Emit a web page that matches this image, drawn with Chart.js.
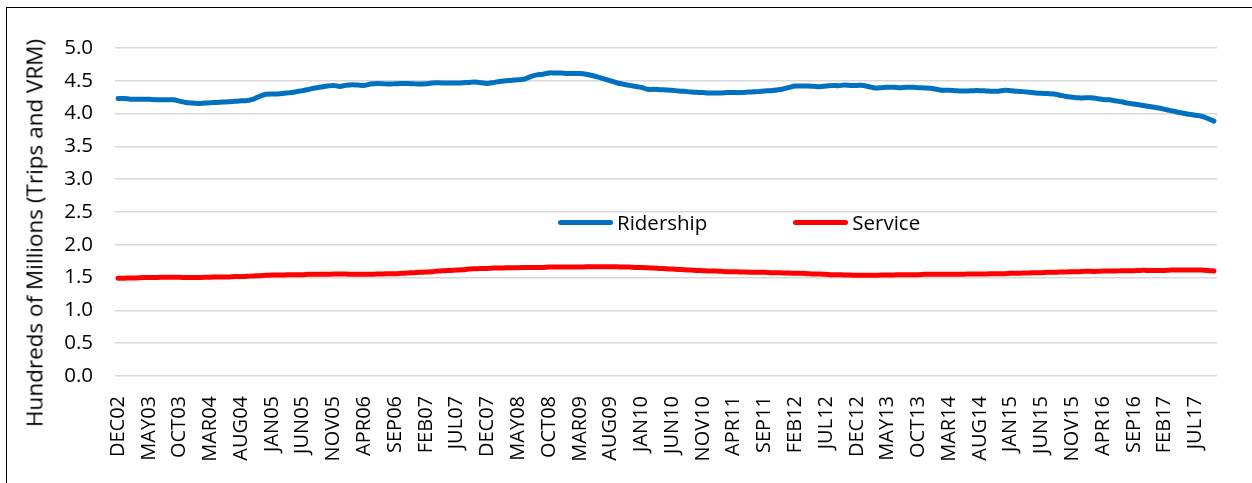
<!DOCTYPE html>
<html>
<head>
<meta charset="utf-8">
<script src="https://cdn.jsdelivr.net/npm/chart.js@4.4.1/dist/chart.umd.min.js"></script>
<style>
  html, body { margin: 0; padding: 0; overflow: hidden; background: #fff; }
  #wrap { position: relative; width: 1252px; height: 483px; }
  #frame { position: absolute; left: 6px; top: 7px; width: 1300px; height: 600px;
           border: 1.5px solid #000; pointer-events: none; }
  #ytitle { position: absolute; left: 34px; top: 233px; white-space: nowrap;
            transform: translate(-50%, -50%) rotate(-90deg);
            font: 22.5px "Open Sans"; color: #000; }
  #legend { position: absolute; left: 558px; top: 208px; display: flex;
            font: 20.5px "Open Sans"; color: #000; }
  .item { display: flex; align-items: center; margin-right: 86px; }
  .swatch { width: 55px; height: 5px; border-radius: 3px; margin-right: 4px; }
</style>
</head>
<body>
<div id="wrap">
  <canvas id="lineChart" width="1252" height="483"></canvas>
  <div id="ytitle">Hundreds of Millions (Trips and VRM)</div>
  <div id="legend"></div>
  <div id="frame"></div>
</div>
<script>
// monthly values, DEC02 .. OCT17
const ridership = [
  4.23,
  4.23, 4.22, 4.22, 4.22, 4.22, 4.21, 4.21, 4.21, 4.21, 4.19, 4.17, 4.16,
  4.155, 4.16, 4.165, 4.17, 4.175, 4.18, 4.19, 4.195, 4.20, 4.22, 4.265, 4.295,
  4.30, 4.30, 4.31, 4.32, 4.335, 4.35, 4.37, 4.39, 4.405, 4.42, 4.43, 4.415,
  4.43, 4.44, 4.435, 4.43, 4.45, 4.46, 4.455, 4.45, 4.455, 4.46, 4.46, 4.455,
  4.45, 4.455, 4.465, 4.47, 4.465, 4.465, 4.465, 4.47, 4.475, 4.48, 4.47, 4.46,
  4.475, 4.49, 4.50, 4.51, 4.515, 4.525, 4.565, 4.59, 4.60, 4.62, 4.62, 4.62,
  4.61, 4.61, 4.61, 4.60, 4.58, 4.555, 4.525, 4.50, 4.47, 4.45, 4.43, 4.415,
  4.40, 4.37, 4.37, 4.365, 4.36, 4.355, 4.345, 4.34, 4.33, 4.325, 4.32, 4.315,
  4.315, 4.315, 4.32, 4.32, 4.32, 4.325, 4.33, 4.335, 4.345, 4.35, 4.36, 4.375,
  4.40, 4.42, 4.42, 4.42, 4.415, 4.41, 4.42, 4.43, 4.425, 4.435, 4.43, 4.43,
  4.43, 4.41, 4.39, 4.395, 4.40, 4.40, 4.395, 4.40, 4.40, 4.395, 4.39, 4.385,
  4.37, 4.355, 4.355, 4.35, 4.345, 4.345, 4.35, 4.35, 4.345, 4.34, 4.34, 4.355,
  4.35, 4.34, 4.335, 4.325, 4.315, 4.31, 4.305, 4.30, 4.28, 4.26, 4.25, 4.24,
  4.24, 4.24, 4.23, 4.215, 4.21, 4.195, 4.18, 4.16, 4.145, 4.13, 4.115, 4.10,
  4.085, 4.065, 4.045, 4.025, 4.005, 3.99, 3.975, 3.96, 3.925, 3.885
];

const service = [
  1.49,
  1.49, 1.495, 1.495, 1.50, 1.50, 1.50, 1.505, 1.505, 1.505, 1.505, 1.50, 1.50,
  1.50, 1.505, 1.505, 1.51, 1.51, 1.51, 1.515, 1.515, 1.52, 1.525, 1.53, 1.535,
  1.54, 1.54, 1.54, 1.545, 1.545, 1.545, 1.55, 1.55, 1.55, 1.55, 1.555, 1.555,
  1.555, 1.55, 1.55, 1.55, 1.55, 1.555, 1.555, 1.56, 1.56, 1.565, 1.57, 1.575,
  1.58, 1.585, 1.59, 1.60, 1.605, 1.61, 1.615, 1.62, 1.63, 1.635, 1.64, 1.64,
  1.645, 1.645, 1.65, 1.65, 1.65, 1.655, 1.655, 1.655, 1.655, 1.66, 1.66, 1.66,
  1.66, 1.66, 1.66, 1.665, 1.665, 1.665, 1.665, 1.665, 1.665, 1.66, 1.66, 1.655,
  1.655, 1.65, 1.645, 1.64, 1.635, 1.63, 1.625, 1.62, 1.615, 1.61, 1.605, 1.60,
  1.60, 1.595, 1.59, 1.59, 1.585, 1.585, 1.58, 1.58, 1.58, 1.575, 1.575, 1.57,
  1.57, 1.565, 1.565, 1.56, 1.555, 1.555, 1.55, 1.545, 1.545, 1.54, 1.54, 1.535,
  1.535, 1.535, 1.535, 1.54, 1.54, 1.54, 1.545, 1.545, 1.545, 1.545, 1.55, 1.55,
  1.55, 1.55, 1.55, 1.55, 1.55, 1.555, 1.555, 1.555, 1.555, 1.56, 1.56, 1.56,
  1.565, 1.565, 1.57, 1.57, 1.575, 1.575, 1.58, 1.58, 1.585, 1.585, 1.59, 1.59,
  1.595, 1.595, 1.595, 1.60, 1.60, 1.60, 1.605, 1.605, 1.605, 1.61, 1.61, 1.61,
  1.61, 1.61, 1.615, 1.615, 1.615, 1.615, 1.615, 1.615, 1.61, 1.60
];

const monthNames = ["JAN", "FEB", "MAR", "APR", "MAY", "JUN",
                    "JUL", "AUG", "SEP", "OCT", "NOV", "DEC"];
const labelEvery = 5;
const yTicks = { min: 0, max: 5, step: 0.5 };

// category labels DEC02, JAN03, ...
const labels = [];
for (let i = 0; i < ridership.length; i++) {
  const m = (11 + i) % 12;
  const yr = 2 + Math.floor((11 + i) / 12);
  labels.push(monthNames[m] + String(yr).padStart(2, "0"));
}

const datasets = [
  { label: "Ridership", data: ridership, borderColor: "#0070C0" },
  { label: "Service", data: service, borderColor: "#FF0000" },
].map(d => ({
  ...d,
  borderWidth: 5,
  borderCapStyle: "round",
  borderJoinStyle: "round",
  pointRadius: 0,
  tension: 0.3,
  fill: false,
}));

const ctx = document.getElementById("lineChart").getContext("2d");
const chart = new Chart(ctx, {
  type: "line",
  data: { labels, datasets },
  options: {
    responsive: false,
    animation: false,
    layout: { padding: { top: 48, right: 35, left: 0, bottom: 0 } },
    plugins: { legend: { display: false }, tooltip: { enabled: false } },
    scales: {
      x: {
        offset: true,
        grid: { display: false },
        border: { display: false },
        afterFit: s => { s.height = 107; },
        ticks: {
          autoSkip: false,
          minRotation: 90,
          maxRotation: 90,
          padding: 12,
          color: "#000",
          font: { family: "Open Sans", size: 20 },
          callback: (v, i) => (i % labelEvery === 0 ? labels[i] : null),
        },
      },
      y: {
        min: yTicks.min,
        max: yTicks.max,
        afterFit: s => { s.width = 115; },
        border: { display: false },
        grid: { color: "#d9d9d9", lineWidth: 1.5, drawTicks: false },
        ticks: {
          stepSize: yTicks.step,
          padding: 22,
          color: "#000",
          font: { family: "Open Sans", size: 20.5 },
          callback: v => v.toFixed(1),
        },
      },
    },
  },
});

// legend overlaid in the plot, like the original
const legend = document.getElementById("legend");
chart.data.datasets.forEach(ds => {
  const item = document.createElement("div");
  item.className = "item";
  const sw = document.createElement("span");
  sw.className = "swatch";
  sw.style.background = ds.borderColor;
  const txt = document.createElement("span");
  txt.textContent = ds.label;
  item.appendChild(sw);
  item.appendChild(txt);
  legend.appendChild(item);
});
</script>
</body>
</html>
